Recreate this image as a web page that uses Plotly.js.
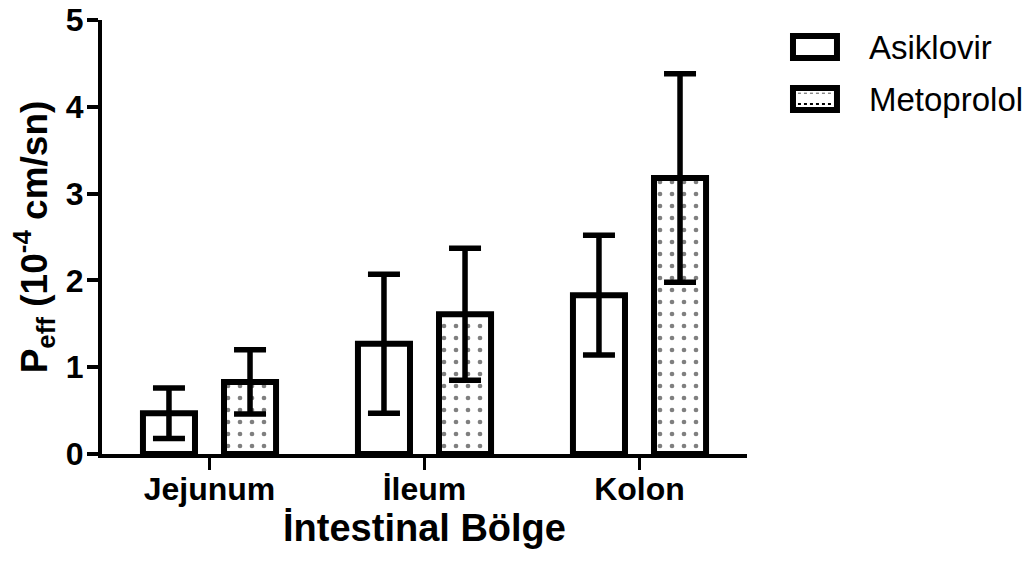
<!DOCTYPE html>
<html>
<head>
<meta charset="utf-8">
<script src="https://cdn.plot.ly/plotly-3.0.1.min.js"></script>
<style>
  html, body { margin: 0; padding: 0; background: #ffffff; }
  #chart { width: 1033px; height: 561px; }
</style>
</head>
<body>
<div id="chart"></div>
<script>
// Intestinal effective permeability (mean ± SD), units of 10^-4 cm/sn
const regions = ['Jejunum', 'İleum', 'Kolon'];
const seriesNames = ['Asiklovir', 'Metoprolol'];
const asiklovirMean = [0.47, 1.27, 1.83];
const asiklovirSD = [0.29, 0.80, 0.69];
const metoprololMean = [0.83, 1.61, 3.18];
const metoprololSD = [0.37, 0.76, 1.20];
const yTicks = [0, 1, 2, 3, 4, 5];

const FONT = 'Arial, "Liberation Sans", Helvetica, sans-serif';

const errStyle = (arr) => ({
  type: 'data', array: arr, visible: true,
  color: '#000000', thickness: 5.5, width: 16
});

const traces = [
  {
    type: 'bar', name: seriesNames[0], x: regions, y: asiklovirMean,
    error_y: errStyle(asiklovirSD),
    marker: { color: '#ffffff', line: { color: '#000000', width: 6 } },
    showlegend: false, hoverinfo: 'x+y'
  },
  {
    type: 'bar', name: seriesNames[1], x: regions, y: metoprololMean,
    error_y: errStyle(metoprololSD),
    marker: {
      color: '#ffffff',
      line: { color: '#000000', width: 6 },
      pattern: { shape: '.', fgcolor: '#000000', bgcolor: '#ffffff', size: 12, solidity: 0.12, fillmode: 'overlay' }
    },
    showlegend: false, hoverinfo: 'x+y'
  }
];

// Legend keys drawn as boxes to the right of the plot area
const legendItems = [
  { name: seriesNames[0], y0: 0.9124, y1: 0.9631, ty: 0.936, dotted: false },
  { name: seriesNames[1], y0: 0.7926, y1: 0.8433, ty: 0.816, dotted: true }
];
const shapes = [];
const annotations = [];
legendItems.forEach(it => {
  shapes.push({
    type: 'rect', xref: 'paper', yref: 'paper',
    x0: 1.0713, x1: 1.1395, y0: it.y0, y1: it.y1,
    line: { color: '#000000', width: 6 }, fillcolor: '#ffffff'
  });
  if (it.dotted) {
    shapes.push({
      type: 'line', xref: 'paper', yref: 'paper',
      x0: 1.079, x1: 1.132, y0: it.y0 + 0.014, y1: it.y0 + 0.014,
      line: { color: '#000000', width: 2, dash: 'dot' }
    });
    shapes.push({
      type: 'line', xref: 'paper', yref: 'paper',
      x0: 1.079, x1: 1.132, y0: it.y1 - 0.012, y1: it.y1 - 0.012,
      line: { color: '#555555', width: 1, dash: 'dot' }
    });
  }
  annotations.push({
    xref: 'paper', yref: 'paper', x: 1.186, y: it.ty,
    xanchor: 'left', yanchor: 'middle', showarrow: false,
    text: it.name, font: { family: FONT, size: 33, color: '#000000' }
  });
});

const layout = {
  width: 1033, height: 561,
  margin: { l: 102, r: 286, t: 20, b: 107 },
  paper_bgcolor: '#ffffff', plot_bgcolor: '#ffffff',
  barmode: 'group', bargap: 0.246, bargroupgap: 0.358,
  showlegend: false,
  font: { family: FONT, color: '#000000' },
  xaxis: {
    type: 'category', range: [-0.5, 2.5],
    showline: true, linecolor: '#000000', linewidth: 4,
    ticks: 'outside', ticklen: 12, tickwidth: 3, tickcolor: '#000000',
    ticklabelstandoff: -8,
    showgrid: false, zeroline: false,
    tickfont: { family: FONT, size: 32, weight: 'bold', color: '#000000' },
    title: {
      text: 'İntestinal Bölge', standoff: 0,
      font: { family: FONT, size: 38, weight: 'bold', color: '#000000' }
    }
  },
  yaxis: {
    range: [0, 5], tickvals: yTicks,
    showline: true, linecolor: '#000000', linewidth: 4,
    ticks: 'outside', ticklen: 11, tickwidth: 4, tickcolor: '#000000',
    ticklabelstandoff: -3,
    showgrid: false, zeroline: false,
    tickfont: { family: FONT, size: 32, weight: 'bold', color: '#000000' },
    title: {
      text: 'P<sub>eff</sub> (10<sup>-4</sup> cm/sn)', standoff: 8,
      font: { family: FONT, size: 37, weight: 'bold', color: '#000000' }
    }
  },
  shapes: shapes,
  annotations: annotations
};

Plotly.newPlot('chart', traces, layout, { displayModeBar: false, staticPlot: true });
</script>
</body>
</html>
